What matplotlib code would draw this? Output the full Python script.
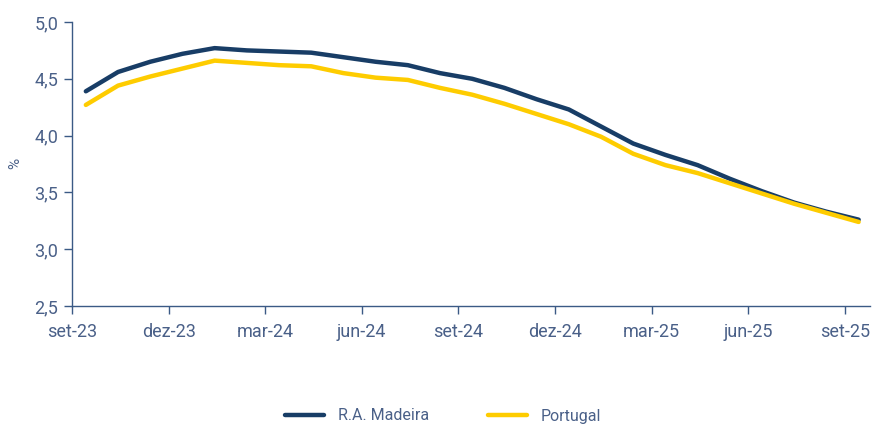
import matplotlib
matplotlib.use("Agg")
import matplotlib.pyplot as plt

plt.rcParams['font.family'] = ['Roboto', 'DejaVu Sans']

madeira = [4.39, 4.56, 4.65, 4.72, 4.77, 4.75, 4.74, 4.73, 4.69, 4.65, 4.62, 4.55,
           4.50, 4.42, 4.32, 4.23, 4.08, 3.93, 3.83, 3.74, 3.62, 3.51, 3.41, 3.33, 3.26]
portugal = [4.27, 4.44, 4.52, 4.59, 4.66, 4.64, 4.62, 4.61, 4.55, 4.51, 4.49, 4.42,
            4.36, 4.28, 4.19, 4.10, 3.99, 3.84, 3.74, 3.67, 3.58, 3.49, 3.40, 3.32, 3.24]
tick_labels = ['set-23', 'dez-23', 'mar-24', 'jun-24', 'set-24', 'dez-24', 'mar-25', 'jun-25', 'set-25']
y_ticks = [2.5, 3.0, 3.5, 4.0, 4.5, 5.0]

navy = '#183d66'
yellow = '#fecc00'
text_col = '#4a6088'
axis_col = '#3b5a85'

fig = plt.figure(figsize=(8.72, 4.25), dpi=100)
ax = fig.add_axes([72/872, 119/425, 798/872, 284/425])

x = [i + 0.43 for i in range(len(madeira))]
l1, = ax.plot(x, madeira, color=navy, lw=3.2, solid_capstyle='round', label='R.A. Madeira')
l2, = ax.plot(x, portugal, color=yellow, lw=3.2, solid_capstyle='round', label='Portugal')

ax.set_xlim(0, 798/32.2)
ax.set_ylim(2.5, 5.0)
ax.set_xticks([3*i for i in range(len(tick_labels))])
ax.set_xticklabels(tick_labels)
ax.set_yticks(y_ticks)
ax.set_yticklabels([f"{v:.1f}".replace('.', ',') for v in y_ticks])

for s in ['top', 'right']:
    ax.spines[s].set_visible(False)
for s in ['left', 'bottom']:
    ax.spines[s].set_color(axis_col)
    ax.spines[s].set_linewidth(1.0)
ax.tick_params(axis='both', colors=axis_col, length=6, width=1.0, labelcolor=text_col, labelsize=13)
ax.tick_params(axis='x', pad=6)
ax.tick_params(axis='y', pad=4)

fig.text(15/872, 1 - 163/425, '%', rotation=90, ha='center', va='center', color=text_col, fontsize=11)

leg = fig.legend(handles=[l1, l2], loc='center', bbox_to_anchor=(443/872, 1 - 416/425), ncol=2, frameon=False,
                 fontsize=11.5, handlelength=2.45, columnspacing=3.7, handletextpad=0.85)
for t in leg.get_texts():
    t.set_color(text_col)

fig.savefig('out.png', dpi=100)
